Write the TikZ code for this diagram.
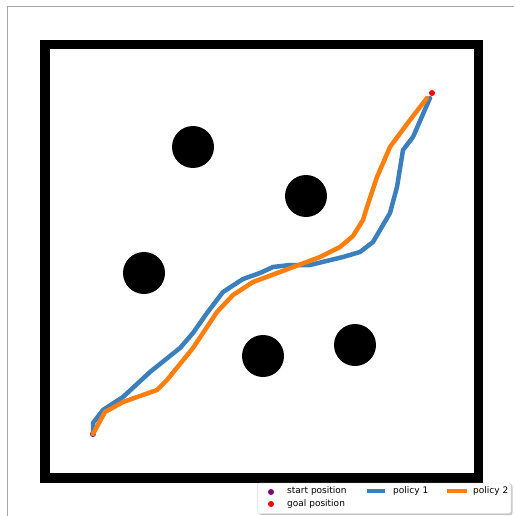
\documentclass[tikz,border=0pt]{standalone}
\usepackage{fontspec}
\setmainfont{DejaVu Sans}
\usepackage{tikz}
\usetikzlibrary{positioning}
\definecolor{polblue}{HTML}{3B80BD}
\definecolor{polorange}{HTML}{FF7F0E}
\definecolor{startpurple}{HTML}{800080}

\begin{document}
\begin{tikzpicture}[x=1pt, y=-1pt,
    obstacle/.style={circle, fill=black, inner sep=0pt, minimum size=42pt},
    marker/.style={circle, inner sep=0pt, minimum size=6pt},
    policy/.style={line width=4.5pt, line join=round, line cap=round},
    legtext/.style={font=\fontsize{9}{10}\selectfont, anchor=west, inner sep=0pt}
]
\useasboundingbox (0,0) rectangle (514,516);
\draw[gray!70, line width=1pt] (7,516) -- (7,7) -- (514,7);
\draw[line width=9.5pt] (45,44.5) rectangle (478.5,478);

\node[obstacle] (obsA) at (193,147) {};
\node[obstacle] (obsB) at (306,196) {};
\node[obstacle] (obsC) at (144,273) {};
\node[obstacle] (obsD) at (263,356) {};
\node[obstacle] (obsE) at (355,345) {};

\node[marker, fill=startpurple] (start) at (93,434) {};
\node[marker, fill=red] (goal) at (432,93) {};

\draw[policy, polblue] (start.center) -- (93,423) -- (103,410) -- (123,397) -- (150,372) -- (180,348)
    -- (193,333) -- (207,313) -- (223,292) -- (243,279) -- (260,273) -- (273,267) -- (290,265)
    -- (310,265) -- (343,257) -- (360,252) -- (373,242) -- (390,213) -- (397,187) -- (403,150)
    -- (413,137) -- (430,98);
\draw[policy, polorange] (start.center) -- (105,412) -- (123,402) -- (157,390) -- (167,380) -- (193,348)
    -- (217,312) -- (233,295) -- (253,282) -- (280,272) -- (320,257) -- (340,247) -- (353,236)
    -- (363,220) -- (367,207) -- (377,177) -- (390,147) -- (410,120) -- (427,98);

\fill[gray!45, rounded corners=2pt] (259.5,484.5) rectangle (512.5,515);
\draw[gray!40, fill=white, rounded corners=2pt] (257.5,483) rectangle (511,513.5);
\node[marker, fill=startpurple] (startkey) at (271,492) {};
\node[legtext] (starttext) at (287,491) {start position};
\node[marker, fill=red] (goalkey) at (271,504) {};
\node[legtext] (goaltext) at (287,504) {goal position};
\coordinate (bluekey) at (367,491);
\node[legtext] (bluetext) at (393,491) {policy 1};
\draw[line width=4.5pt, polblue] (bluekey) -- ++(18,0);
\coordinate (orangekey) at (447,491);
\node[legtext] (orangetext) at (473,491) {policy 2};
\draw[line width=4.5pt, polorange] (orangekey) -- ++(20,0);

\end{tikzpicture}
\end{document}
